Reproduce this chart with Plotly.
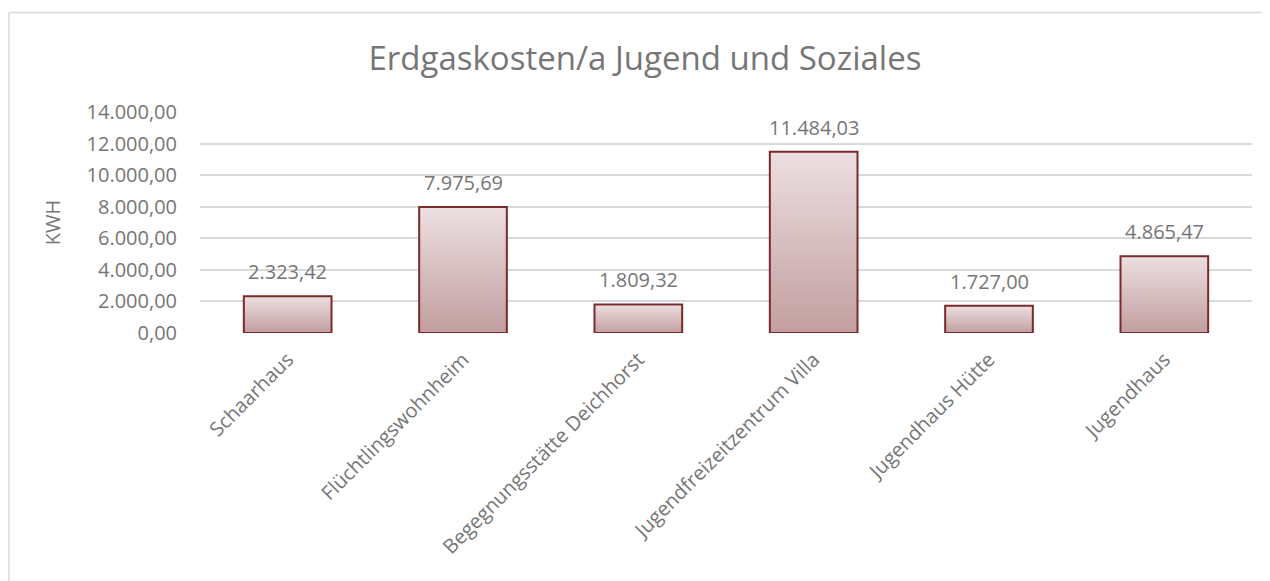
import plotly.graph_objects as go

categories = ["Schaarhaus", "Flüchtlingswohnheim", "Begegnungsstätte Deichhorst",
              "Jugendfreizeitzentrum Villa", "Jugendhaus Hütte", "Jugendhaus"]
values = [2323.42, 7975.69, 1809.32, 11484.03, 1727.00, 4865.47]
value_labels = ["2.323,42", "7.975,69", "1.809,32", "11.484,03", "1.727,00", "4.865,47"]
y_ticks = [0, 2000, 4000, 6000, 8000, 10000, 12000, 14000]
y_tick_labels = ["0,00", "2.000,00", "4.000,00", "6.000,00", "8.000,00",
                 "10.000,00", "12.000,00", "14.000,00"]

TEXT = "#767676"
FONT = "Open Sans"
half = 0.25

fig = go.Figure()
for i, v in enumerate(values):
    fig.add_trace(go.Scatter(
        x=[i - half, i - half, i + half, i + half, i - half],
        y=[0, v, v, 0, 0],
        mode="lines",
        fill="toself",
        fillgradient=dict(type="vertical",
                          colorscale=[[0, "#c29e9f"], [1, "#ecdfe1"]]),
        line=dict(color="#7a2a2d", width=2),
        hoverinfo="skip",
        showlegend=False,
    ))

for i, (v, t) in enumerate(zip(values, value_labels)):
    fig.add_annotation(x=i, y=v, text=t, showarrow=False, yanchor="bottom",
                       yshift=9, font=dict(family=FONT, size=20, color=TEXT))

OFF = 8  # page body margin
W, H = 1270 - OFF, 581 - OFF
L, R, T, B = 200 - OFF, 1252 - OFF, 112 - OFF, 333 - OFF
pw, ph = R - L, B - T

bx0 = (9 - OFF - L) / pw
by1 = (B - (12.5 - OFF)) / ph
border = dict(color="#d9d9d9", width=1.5)
fig.add_shape(type="line", xref="paper", yref="paper",
              x0=bx0, x1=bx0, y0=(B - 700) / ph, y1=by1, line=border, layer="below")
fig.add_shape(type="line", xref="paper", yref="paper",
              x0=bx0, x1=(1400 - L) / pw, y0=by1, y1=by1, line=border, layer="below")

fig.update_layout(
    width=W, height=H,
    margin=dict(l=L, r=W - R, t=T, b=H - B),
    paper_bgcolor="white", plot_bgcolor="white",
    title=dict(text="Erdgaskosten/a Jugend und Soziales",
               x=(645 - OFF) / W, xref="container", xanchor="center",
               y=1 - (58 - OFF) / H, yref="container", yanchor="middle",
               font=dict(family=FONT, size=33, color=TEXT)),
    font=dict(family=FONT, size=20, color=TEXT),
    xaxis=dict(range=[-0.5, len(categories) - 0.5],
               tickmode="array", tickvals=list(range(len(categories))),
               ticktext=categories, tickangle=-45,
               showgrid=False, zeroline=False, showline=False,
               ticks="", ticklabelstandoff=10,
               tickfont=dict(family=FONT, size=20, color=TEXT)),
    yaxis=dict(range=[0, 14000], tickmode="array", tickvals=y_ticks,
               ticktext=y_tick_labels, showgrid=True, gridcolor="#d9d9d9",
               gridwidth=1.5, zeroline=False, showline=False, ticks="",
               ticklabelstandoff=22,
               tickfont=dict(family=FONT, size=20, color=TEXT),
               title=dict(text="KWH", standoff=20,
                          font=dict(family=FONT, size=20, color=TEXT))),
)

fig.write_html("out.html")
